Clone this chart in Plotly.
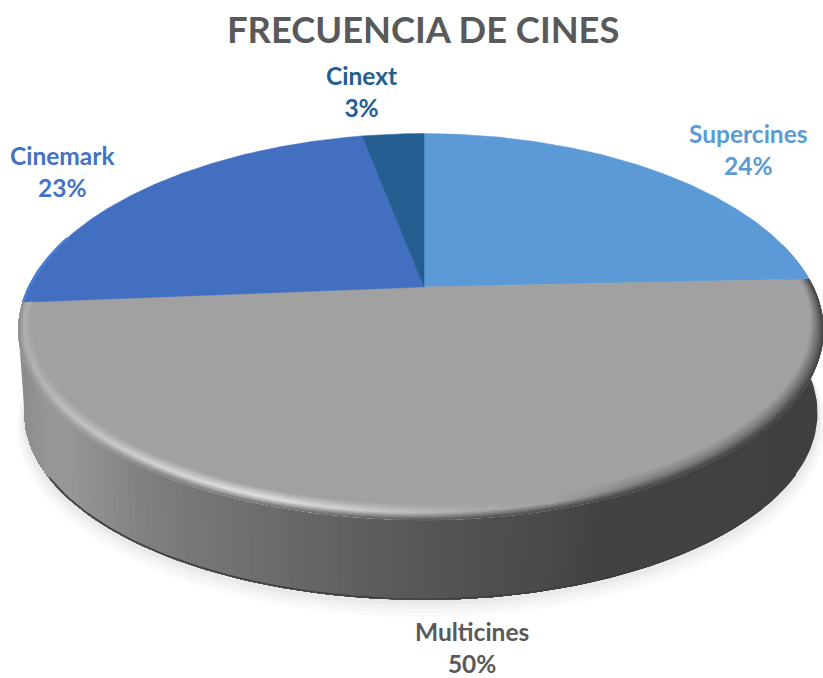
import numpy as np
import plotly.graph_objects as go

# ---- chart data ----
categories = ["Supercines", "Multicines", "Cinemark", "Cinext"]
values = [24, 50, 23, 3]
slice_colors = ["#5b9ad6", "#a1a1a1", "#426fc0", "#255e91"]
label_colors = ["#5b9bd5", "#595959", "#4472c4", "#255e91"]
title_text = "FRECUENCIA DE CINES"

# ---- projection of the tilted disc onto the page ----
CX, CY = 424.0, 287.0
R_LEFT, R_RIGHT = 397.0, 391.0
B, K = 185.0, 0.2057
BOTTOM_SCALE, BOTTOM_DY = 0.985, 83.5


def project(theta_deg, r=1.0, scale=1.0, dy=0.0):
    t = np.radians(np.asarray(theta_deg, dtype=float))
    u, v = r * np.sin(t), r * np.cos(t)
    w = 1 + K * v
    rad = np.where(u < 0, R_LEFT, R_RIGHT)
    return CX + scale * rad * u / w, CY + dy - scale * B * v / w + 3.5 * u * u


def gray(level):
    g = int(round(float(level)))
    return f"rgb({g},{g},{g})"


def side_level(x):
    return np.interp(x, [18, 45, 70, 150, 280, 424, 520, 600, 823],
                     [140, 150, 150, 126, 106, 86, 76, 66, 64])


def highlight_level(x):
    return np.interp(x, [18, 60, 150, 260, 380, 470, 560, 650, 823],
                     [176, 190, 212, 226, 200, 172, 161, 130, 112])


def poly(fig, xs, ys, col):
    fig.add_trace(go.Scatter(x=xs, y=ys, mode="lines", fill="toself", fillcolor=col,
                             line=dict(width=0), hoverinfo="skip", showlegend=False))


fig = go.Figure()

# soft shadow under the disc
circle = np.arange(0, 361, 2.0)
for extra_dy, extra_s, lvl in [(13, 0.018, 250), (10, 0.014, 246), (7, 0.010, 241), (4, 0.006, 234)]:
    sx, sy = project(circle, 1.0, BOTTOM_SCALE + extra_s, BOTTOM_DY + extra_dy)
    poly(fig, sx, sy, gray(lvl))

# side wall: each band is painted over the rest of the wall, so no seams show
WALL_END = 285.0
wall = np.arange(75.0, WALL_END + 0.5, 1.0)
last = None
for a in wall[:-1]:
    xm, _ = project(a + 0.5)
    lvl = int(round(float(side_level(float(xm)))))
    if lvl == last:
        continue
    last = lvl
    part = wall[wall >= a]
    xt, yt = project(part)
    xb, yb = project(part, 1.0, BOTTOM_SCALE, BOTTOM_DY)
    poly(fig, np.r_[xt, xb[::-1], xt[0]], np.r_[yt, yb[::-1], yt[0]], gray(lvl))

# dark lower edge of the wall
edge = np.arange(120.0, 240.0, 1.0)
ex, ey = project(edge, 1.0, BOTTOM_SCALE, BOTTOM_DY - 0.8)
fig.add_trace(go.Scatter(x=ex, y=ey, mode="lines", line=dict(color="#3f3f3f", width=1.6),
                         hoverinfo="skip", showlegend=False))

# top faces, from the values
cum = np.cumsum([0] + values) / sum(values) * 360.0
for i, name in enumerate(categories):
    arc = np.linspace(cum[i], cum[i + 1], max(4, int(cum[i + 1] - cum[i]) * 2))
    ax, ay = project(arc)
    fig.add_trace(go.Scatter(x=np.r_[CX, ax, CX], y=np.r_[CY, ay, CY], mode="lines", fill="toself",
                             fillcolor=slice_colors[i], line=dict(color=slice_colors[i], width=0.5),
                             name=name, hoverinfo="skip", showlegend=False))

# light edge on the far left of the Cinemark slice
rim = np.arange(cum[2], cum[2] + 22, 1.0)
rx, ry = project(rim, 0.999)
fig.add_trace(go.Scatter(x=rx, y=ry, mode="lines", line=dict(color="#4a80d8", width=2.5),
                         hoverinfo="skip", showlegend=False))

# rounded bevel along the front edge of the largest slice
RINGS = 12
base = 161.0
for j in range(RINGS):
    t = (j + 0.5) / RINGS
    groups = {}
    for a in np.arange(cum[1], cum[2], 1.0):
        a2 = min(a + 1.3, cum[2])
        mid = a + 0.5
        vm = np.cos(np.radians(mid))
        inner = 1 - (0.026 + 0.03 * max(-vm, 0.0))
        xm = float(project(mid)[0])
        h = float(highlight_level(xm))
        s = float(side_level(xm))
        level = base + (h - base) * (t / 0.55) if t < 0.55 else h + (s - h) * ((t - 0.55) / 0.45)
        lvl = int(round(level / 3) * 3)
        x0, y0 = project([a, a2], inner + (1 - inner) * j / RINGS)
        x1, y1 = project([a, a2], 1.0)
        gx, gy = groups.setdefault(lvl, ([], []))
        gx += [x0[0], x0[1], x1[1], x1[0], x0[0], None]
        gy += [y0[0], y0[1], y1[1], y1[0], y0[0], None]
    for lvl in sorted(groups):
        poly(fig, groups[lvl][0], groups[lvl][1], gray(lvl))

# labels
label_pos = {"Supercines": (748, 149.5), "Multicines": (472, 647), "Cinemark": (62, 171), "Cinext": (361, 91)}
annotations = [dict(x=label_pos[n][0], y=label_pos[n][1], xref="x", yref="y", showarrow=False,
                    text=f"<b>{n}<br>{v}%</b>", align="center",
                    font=dict(family="Lato", size=24.5, color=label_colors[i]))
               for i, (n, v) in enumerate(zip(categories, values))]
annotations.append(dict(x=423, y=29, xref="x", yref="y", showarrow=False, text=f"<b>{title_text}</b>",
                        font=dict(family="Lato", size=36.3, color="#595959")))

fig.update_layout(
    width=823, height=678, margin=dict(l=0, r=0, t=0, b=0),
    paper_bgcolor="white", plot_bgcolor="white", showlegend=False,
    xaxis=dict(range=[0, 823], visible=False, fixedrange=True),
    yaxis=dict(range=[678, 0], visible=False, fixedrange=True),
    annotations=annotations,
)
fig.write_html("out.html", config={"displayModeBar": False},
               post_script="document.body.style.margin='0';document.body.style.overflow='hidden';")
